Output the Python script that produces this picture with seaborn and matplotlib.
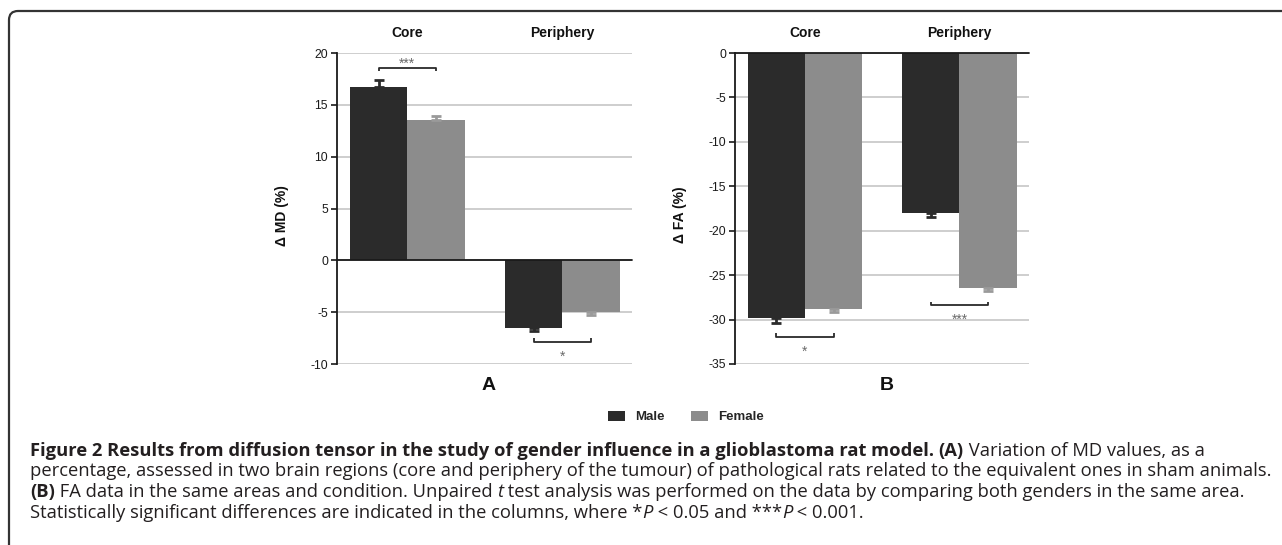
import numpy as np
import pandas as pd
import matplotlib
matplotlib.use("Agg")
import matplotlib.pyplot as plt
import matplotlib.patches as mpatches
from matplotlib.transforms import blended_transform_factory
import seaborn as sns

# ---------------- data ----------------
regions = ["Core", "Periphery"]
sexes = ["Male", "Female"]

md_male = [16.7, -6.5]
md_female = [13.55, -5.0]
md_male_err = [0.65, 0.3]
md_female_err = [0.4, 0.25]
md_sig = ["***", "*"]

fa_male = [-29.85, -18.0]
fa_female = [-28.8, -26.45]
fa_male_err = [0.5, 0.45]
fa_female_err = [0.3, 0.35]
fa_sig = ["*", "***"]

md_ticks = [-10, -5, 0, 5, 10, 15, 20]
fa_ticks = [-35, -30, -25, -20, -15, -10, -5, 0]
panel_labels = ["A", "B"]
y_labels = ["\u0394 MD (%)", "\u0394 FA (%)"]

caption_lines = [
    [("Figure 2 Results from diffusion tensor in the study of gender influence in a glioblastoma rat model. ", "bold", "normal"),
     ("(A)", "bold", "normal"),
     (" Variation of MD values, as a", "normal", "normal")],
    [("percentage, assessed in two brain regions (core and periphery of the tumour) of pathological rats related to the equivalent ones in sham animals.", "normal", "normal")],
    [("(B)", "bold", "normal"),
     (" FA data in the same areas and condition. Unpaired ", "normal", "normal"),
     ("t", "normal", "italic"),
     (" test analysis was performed on the data by comparing both genders in the same area.", "normal", "normal")],
    [("Statistically significant differences are indicated in the columns, where *", "normal", "normal"),
     ("P", "normal", "italic"),
     (" < 0.05 and ***", "normal", "normal"),
     ("P", "normal", "italic"),
     (" < 0.001.", "normal", "normal")],
]

# ---------------- style ----------------
sns.set_style("white")
plt.rcParams["font.family"] = ["Liberation Sans", "DejaVu Sans"]

W, H = 1282, 545
fig = plt.figure(figsize=(W / 100, H / 100), dpi=100)


def fx(x):
    return x / W


def fy(y):
    return 1 - y / H


colors = {"Male": "#2b2b2b", "Female": "#8c8c8c"}
err_colors = {"Male": "#2b2b2b", "Female": "#9a9a9a"}
grid_color = "#c6c6c6"

axA = fig.add_axes([fx(337), fy(364), 295 / W, 311 / H])
axB = fig.add_axes([fx(735), fy(364), 294 / W, 311 / H])

panels = [
    (axA, md_male, md_female, md_male_err, md_female_err, md_sig, md_ticks, (-10, 20)),
    (axB, fa_male, fa_female, fa_male_err, fa_female_err, fa_sig, fa_ticks, (-35, 0)),
]

for i, (ax, m, f, me, fe, sig, ticks, ylim) in enumerate(panels):
    df = pd.DataFrame({
        "region": regions * 2,
        "sex": ["Male"] * len(regions) + ["Female"] * len(regions),
        "value": list(m) + list(f),
    })
    sns.barplot(data=df, x="region", y="value", hue="sex", order=regions,
                hue_order=sexes, palette=colors, width=0.74, errorbar=None,
                saturation=1, legend=False, ax=ax, zorder=3, linewidth=0)
    ax.set_ylim(*ylim)
    ax.set_xlim(-0.453, 1.45)
    ax.set_yticks(ticks)
    ax.set_yticklabels([str(t) for t in ticks])
    ax.set_xlabel("")
    ax.set_ylabel("")
    ax.tick_params(axis="x", bottom=False, labelbottom=False)
    ax.tick_params(axis="y", left=True, length=4.5, width=1.2, color="#1a1a1a",
                   labelsize=8.7, pad=2, labelcolor="#1a1a1a")
    for s in ["top", "right", "bottom"]:
        ax.spines[s].set_visible(False)
    ax.spines["left"].set_color("#1a1a1a")
    ax.spines["left"].set_linewidth(1.3)
    ax.spines["left"].set_zorder(6)
    ax.yaxis.grid(True, color=grid_color, lw=1.2)
    ax.set_axisbelow(True)
    ax.axhline(0, color="#1a1a1a", lw=1.3, zorder=5, clip_on=False)

    ppu = 311 / (ylim[1] - ylim[0])  # pixels per data unit

    # error bars
    centers = {}
    for sex, cont, vals, errs in zip(sexes, ax.containers, [m, f], [me, fe]):
        for reg, bar, v, e in zip(regions, cont, vals, errs):
            xc = bar.get_x() + bar.get_width() / 2
            centers[(sex, reg)] = xc
            yerr = [[0], [e]] if v >= 0 else [[e], [0]]
            ax.errorbar(xc, v, yerr=yerr, fmt="none", ecolor=err_colors[sex],
                        elinewidth=2, capsize=3.5, capthick=2, zorder=4)

    # significance brackets
    trans = blended_transform_factory(ax.transData, ax.transAxes)
    for j, reg in enumerate(regions):
        x1, x2 = centers[("Male", reg)], centers[("Female", reg)]
        vals = [(m[j], me[j]), (f[j], fe[j])]
        if m[j] >= 0:
            ext = max(v + e for v, e in vals)
            yb = ext + 12 / ppu
            yt = yb - 3 / ppu
            ys = yb + 0.5 / ppu
        else:
            ext = min(v - e for v, e in vals)
            off = 11 if i == 0 else 14
            yb = ext - off / ppu
            yt = yb + 3.5 / ppu
            ys = yb - 19 / ppu
        ax.plot([x1, x1, x2, x2], [yt, yb, yb, yt], color="#2a2a2a", lw=1.3,
                zorder=5, clip_on=False, solid_capstyle="butt")
        ax.text((x1 + x2) / 2, ys, sig[j], ha="center", va="baseline", fontsize=10,
                color="#6a6a6a", zorder=5)

        # region titles
        ax.text((x1 + x2) / 2, 1 + 20 / 311, reg, transform=trans, ha="center",
                va="center", fontsize=10, fontweight="bold", color="#111111")

    ax.text(0.515, -21.5 / 311, panel_labels[i], transform=ax.transAxes,
            ha="center", va="center", fontsize=14, fontweight="bold", color="#111111")

fig.text(fx(282), fy(216), y_labels[0], rotation=90, ha="center", va="center",
         fontsize=10, fontweight="bold", color="#111111")
fig.text(fx(680), fy(215), y_labels[1], rotation=90, ha="center", va="center",
         fontsize=10, fontweight="bold", color="#111111")

# legend
handles = [mpatches.Patch(facecolor=colors[s], edgecolor="none") for s in sexes]
fig.legend(handles, sexes, loc="center", bbox_to_anchor=(fx(686), fy(417)), ncol=2,
           frameon=False, prop={"weight": "bold", "size": 9.5}, handlelength=1.3,
           handleheight=0.8, handletextpad=0.75, columnspacing=2.0)

# frame with rounded top-left corner
frame = mpatches.FancyBboxPatch((9, -30), 1400, (H - 11) + 30,
                                boxstyle="round,pad=0,rounding_size=9",
                                transform=None, facecolor="none",
                                edgecolor="#333333", linewidth=1.6)
fig.patches.append(frame)

# caption
renderer = fig.canvas.get_renderer()
cap_family = ["Open Sans", "DejaVu Sans"]


def measure(text, weight, style, size):
    t1 = fig.text(0, 0, text + "|", fontsize=size, fontweight=weight,
                  fontstyle=style, family=cap_family)
    t2 = fig.text(0, 0, "|", fontsize=size, fontweight=weight,
                  fontstyle=style, family=cap_family)
    w = t1.get_window_extent(renderer).width - t2.get_window_extent(renderer).width
    t1.remove()
    t2.remove()
    return w


x0 = 30
base_size = 11
w2 = sum(measure(t, wgt, st, base_size) for t, wgt, st in caption_lines[1])
cap_size = base_size * (1270 - x0) / w2

baselines = [456, 476.5, 497, 517.5]
for line, yb in zip(caption_lines, baselines):
    x = x0
    for text, wgt, st in line:
        fig.text(fx(x), fy(yb), text, fontsize=cap_size, fontweight=wgt,
                 fontstyle=st, family=cap_family, va="baseline", ha="left",
                 color="#231f20")
        x += measure(text, wgt, st, cap_size)

fig.savefig("out.png", dpi=100)
